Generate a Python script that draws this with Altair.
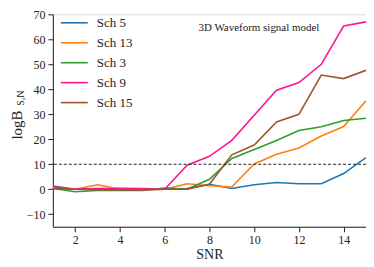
import altair as alt
import pandas as pd

snr = list(range(1, 16))
series_names = ["Sch 5", "Sch 13", "Sch 3", "Sch 9", "Sch 15"]
sch5 = [1.3, 0.0, 0.2, 0.4, 0.3, 0.1, 0.3, 2.0, 0.3, 1.8, 2.7, 2.2, 2.2, 6.3, 12.7]
sch13 = [0.3, 0.0, 1.8, 0.0, -0.2, 0.0, 2.2, 1.4, 0.9, 10.1, 14.0, 16.5, 21.3, 25.1, 35.4]
sch3 = [0.3, -1.0, -0.5, -0.5, -0.5, 0.5, 0.0, 4.0, 12.3, 15.9, 19.5, 23.5, 25.0, 27.5, 28.4]
sch9 = [1.0, 0.0, 0.3, 0.2, 0.2, 0.0, 9.6, 13.2, 19.6, 29.6, 39.6, 42.7, 50.0, 65.3, 67.0]
sch15 = [0.3, 0.0, -0.2, -0.2, -0.3, 0.0, 0.0, 2.0, 13.8, 17.7, 26.9, 30.0, 45.7, 44.3, 47.6]
colors = ["#1f77b4", "#ff7f0e", "#2ca02c", "#ff1493", "#a0522d"]
y_ticks = [-10, 0, 10, 20, 30, 40, 50, 60, 70]
x_ticks = [2, 4, 6, 8, 10, 12, 14]
threshold = 10

rows = []
for name, vals in zip(series_names, [sch5, sch13, sch3, sch9, sch15]):
    for s, v in zip(snr, vals):
        rows.append({"SNR": s, "val": v, "series": name})
df = pd.DataFrame(rows)

FONT = "Liberation Serif"
W, H = 314, 213

xs = alt.Scale(domain=[1, 15], nice=False, zero=False)
ys = alt.Scale(domain=[-15, 70], nice=False, zero=False)

y_axis = alt.Axis(values=y_ticks, title=None, grid=False, labelFont=FONT,
                  labelFontSize=12, labelColor="#222", domainColor="#222",
                  tickColor="#222", tickSize=5, labelPadding=3, labelOverlap=False)

lines = alt.Chart(df).mark_line(strokeWidth=1.6, clip=True).encode(
    x=alt.X("SNR:Q", scale=xs,
            axis=alt.Axis(values=x_ticks, title="SNR", grid=False, labelFont=FONT,
                          titleFont=FONT, labelFontSize=12, titleFontSize=14,
                          titleFontWeight="normal", labelColor="#222", titleColor="#222",
                          domainColor="#222", tickColor="#222", tickSize=5,
                          labelPadding=3, titlePadding=2, labelOverlap=False)),
    y=alt.Y("val:Q", scale=ys, axis=y_axis),
    color=alt.Color("series:N", scale=alt.Scale(domain=series_names, range=colors),
                    legend=alt.Legend(title=None, orient="none", legendX=9, legendY=-4,
                                      symbolType="M-1.165,0H1.165", symbolStrokeWidth=1.6,
                                      symbolSize=537, labelFont=FONT, labelFontSize=13,
                                      labelColor="#222", rowPadding=0, labelOffset=10)),
    detail="series:N",
)

thr = alt.Chart(pd.DataFrame({"y": [threshold]})).mark_rule(
    color="#222", strokeDash=[3, 2], strokeWidth=1
).encode(y=alt.Y("y:Q", scale=ys, axis=y_axis))

note = alt.Chart(pd.DataFrame({"t": ["3D Waveform signal model"]})).mark_text(
    font=FONT, fontSize=11, align="left", baseline="middle", color="#222"
).encode(x=alt.value(146), y=alt.value(14), text="t:N")

ylab1 = alt.Chart(pd.DataFrame({"t": ["logB"]})).mark_text(
    font=FONT, fontSize=15, angle=270, align="center", baseline="middle", color="#222"
).encode(x=alt.value(-36), y=alt.value(111), text="t:N")

ylab2 = alt.Chart(pd.DataFrame({"t": ["S,N"]})).mark_text(
    font=FONT, fontSize=10, angle=270, align="center", baseline="middle", color="#222"
).encode(x=alt.value(-32), y=alt.value(84), text="t:N")

chart = alt.layer(lines, thr, note, ylab1, ylab2).properties(
    width=W, height=H,
    autosize=alt.AutoSizeParams(type="none"),
    padding={"left": 45, "top": 6, "right": 0, "bottom": 40},
).configure_view(stroke="#222", strokeWidth=1).configure(background="white")

chart.save("out.html", embed_options={"renderer": "svg", "actions": False})
